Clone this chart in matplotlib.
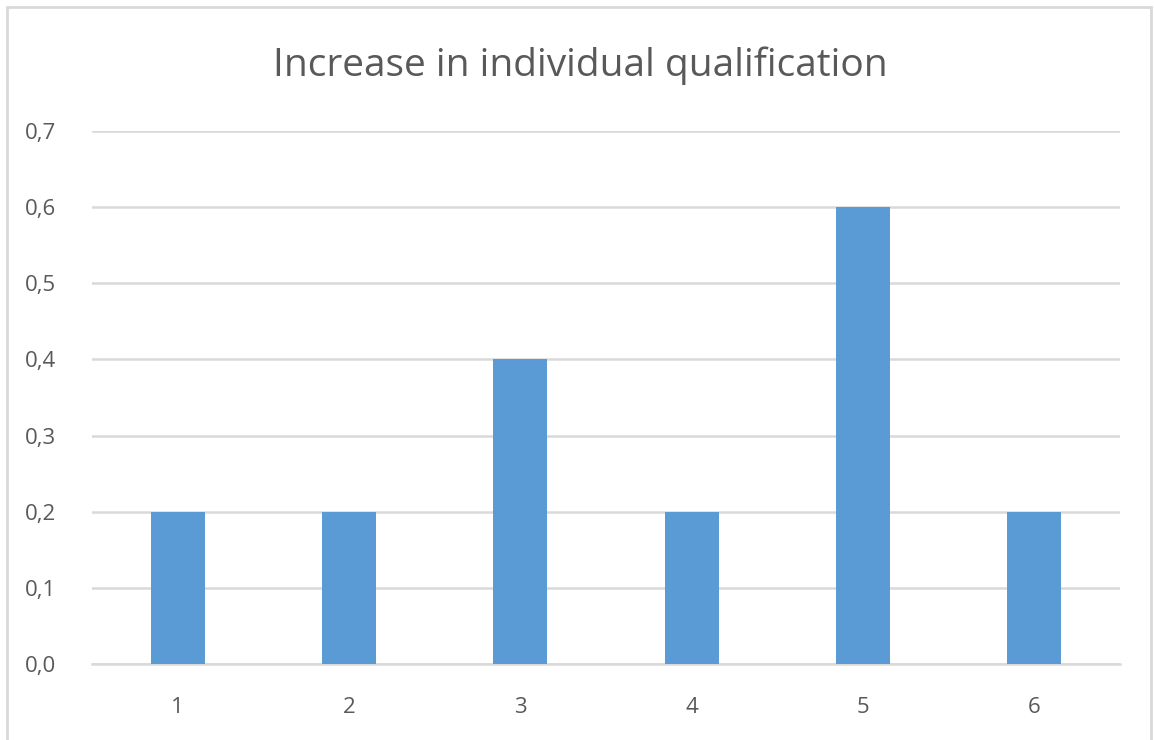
import matplotlib.pyplot as plt
from matplotlib.patches import Rectangle

# data
categories = ['1', '2', '3', '4', '5', '6']
values = [0.2, 0.2, 0.4, 0.2, 0.6, 0.2]
yticks = [0.0, 0.1, 0.2, 0.3, 0.4, 0.5, 0.6, 0.7]
ytick_labels = ['0,0', '0,1', '0,2', '0,3', '0,4', '0,5', '0,6', '0,7']
title = 'Increase in individual qualification'

plt.rcParams['font.family'] = ['Open Sans', 'DejaVu Sans']
text_color = '#595959'
grid_color = '#D9D9D9'
bar_color = '#5B9BD5'

fig = plt.figure(figsize=(11.54, 7.40), dpi=100)
fig.patch.set_facecolor('white')

# outer chart border (light grey frame)
fig.patches.append(Rectangle((7 / 1154, -0.01), 1 - 10 / 1154, 1 - 7 / 740 + 0.01,
                             transform=fig.transFigure, fill=False,
                             edgecolor='#D9D9D9', linewidth=2))

ax = fig.add_axes([92 / 1154, 1 - 664 / 740, (1120 - 92) / 1154, (664 - 131) / 740])
x = list(range(len(categories)))
ax.bar(x, values, width=0.315, color=bar_color, zorder=3)

ax.set_xlim(-0.5, len(categories) - 0.5)
ax.set_ylim(0, 0.7)
ax.set_xticks(x)
ax.set_xticklabels(categories)
ax.set_yticks(yticks)
ax.set_yticklabels(ytick_labels)

ax.grid(axis='y', color=grid_color, linewidth=1.8, zorder=0)
for s in ['top', 'right', 'left']:
    ax.spines[s].set_visible(False)
ax.spines['bottom'].set_color(grid_color)
ax.spines['bottom'].set_linewidth(1.8)
ax.tick_params(axis='both', length=0, labelsize=16, colors=text_color)
ax.tick_params(axis='x', pad=24)
ax.tick_params(axis='y', pad=48)
for lab in ax.get_yticklabels():
    lab.set_horizontalalignment('left')

fig.text(580 / 1154, 1 - 66 / 740, title, ha='center', va='center',
         fontsize=28, color=text_color)

fig.savefig('out.png', dpi=100)
